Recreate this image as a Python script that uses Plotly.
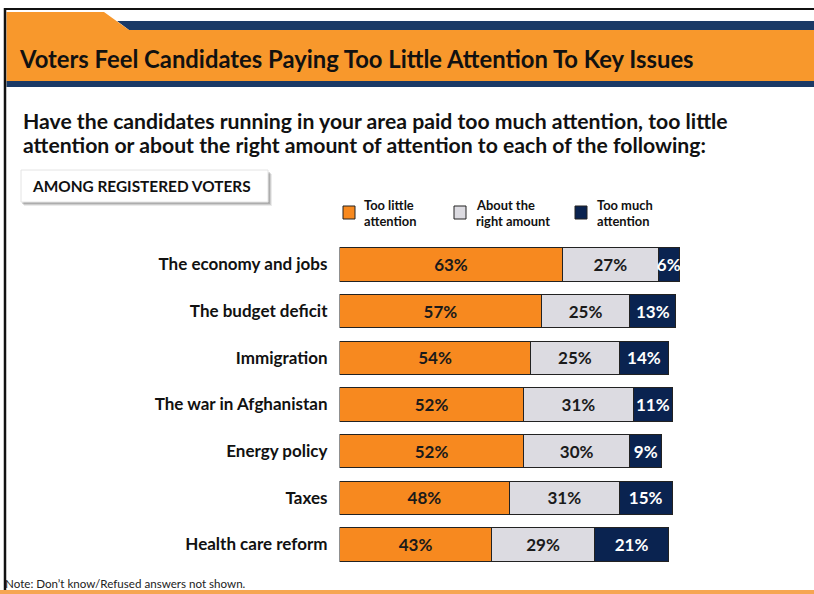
import plotly.graph_objects as go

# Survey items, top to bottom
categories = [
    "The economy and jobs",
    "The budget deficit",
    "Immigration",
    "The war in Afghanistan",
    "Energy policy",
    "Taxes",
    "Health care reform",
]
too_little = [63, 57, 54, 52, 52, 48, 43]
about_right = [27, 25, 25, 31, 30, 31, 29]
too_much = [6, 13, 14, 11, 9, 15, 21]

series_names = ["Too little<br>attention", "About the<br>right amount", "Too much<br>attention"]
series_colors = ["#F7891F", "#DCDBE1", "#0A2350"]
label_colors = ["#1a1a1a", "#1a1a1a", "#FFFFFF"]

W, H = 814, 594
FONT = "Lato"


def fx(x):
    return x / W


def fy(y):
    return 1 - y / H


fig = go.Figure()
for vals, name, col, tcol in zip([too_little, about_right, too_much], series_names,
                                 series_colors, label_colors):
    fig.add_trace(go.Bar(
        y=categories, x=vals, orientation="h", name=name,
        marker=dict(color=col, line=dict(color="#222222", width=1)),
        texttemplate="%{x}%", textposition="inside", insidetextanchor="middle",
        textangle=0,
        textfont=dict(family=FONT, size=17, color=tcol, weight="bold"),
        cliponaxis=False, showlegend=False, hoverinfo="skip",
    ))

shapes = []
# header: navy strip, orange tab/band, navy underline
shapes.append(dict(type="path", xref="paper", yref="paper",
                   path=f"M{fx(117)},{fy(21)} L{fx(814)},{fy(21)} L{fx(814)},{fy(30)} L{fx(129)},{fy(30)} Z",
                   fillcolor="#1B3A66", line=dict(width=0)))
shapes.append(dict(type="path", xref="paper", yref="paper",
                   path=(f"M{fx(6.5)},{fy(12)} L{fx(104)},{fy(12)} L{fx(129)},{fy(30)} "
                         f"L{fx(814)},{fy(30)} L{fx(814)},{fy(81)} L{fx(6.5)},{fy(81)} Z"),
                   fillcolor="#F8982C", line=dict(width=0)))
shapes.append(dict(type="rect", xref="paper", yref="paper", x0=fx(6.5), x1=fx(814), y0=fy(81), y1=fy(87),
                   fillcolor="#1B3A66", line=dict(width=0)))
# bottom rule
shapes.append(dict(type="rect", xref="paper", yref="paper", x0=0, x1=1, y0=fy(590), y1=fy(594),
                   fillcolor="#F6A653", line=dict(width=0)))
# outer frame
shapes.append(dict(type="line", xref="paper", yref="paper", x0=fx(4), x1=fx(814), y0=fy(9), y1=fy(9),
                   line=dict(color="#111111", width=2)))
shapes.append(dict(type="line", xref="paper", yref="paper", x0=fx(5), x1=fx(5), y0=fy(8), y1=fy(590),
                   line=dict(color="#111111", width=2.5)))
# label box with soft shadow
for dx, a in [(4, 0.08), (3, 0.12), (2, 0.16)]:
    shapes.append(dict(type="rect", xref="paper", yref="paper", x0=fx(21 + dx - 1), x1=fx(268 + dx),
                       y0=fy(202 + dx), y1=fy(170 + dx), fillcolor=f"rgba(0,0,0,{a})", line=dict(width=0)))
shapes.append(dict(type="rect", xref="paper", yref="paper", x0=fx(21), x1=fx(268), y0=fy(202), y1=fy(170),
                   fillcolor="white", line=dict(color="#E4E4E4", width=1)))

annotations = [
    dict(text="Voters Feel Candidates Paying Too Little Attention To Key Issues",
         x=fx(17), y=fy(59), xanchor="left", yanchor="middle",
         font=dict(family=FONT, size=23.8, color="#111111", weight="bold")),
    dict(text="Have the candidates running in your area paid too much attention, too little",
         x=fx(21), y=fy(121), xanchor="left", yanchor="middle",
         font=dict(family=FONT, size=21.2, color="#111111", weight="bold")),
    dict(text="attention or about the right amount of attention to each of the following:",
         x=fx(21), y=fy(145.5), xanchor="left", yanchor="middle",
         font=dict(family=FONT, size=21.2, color="#111111", weight="bold")),
    dict(text="AMONG REGISTERED VOTERS", x=fx(30), y=fy(186), xanchor="left", yanchor="middle",
         font=dict(family=FONT, size=15.4, color="#111111", weight="bold")),
    dict(text="Note: Don\u2019t know/Refused answers not shown.", x=fx(3), y=fy(583),
         xanchor="left", yanchor="middle",
         font=dict(family=FONT, size=11.6, color="#222222")),
]

# legend
legend_sq_x = [343, 454, 575]
legend_txt_x = [362, 474, 595]
for sx, tx, name, col in zip(legend_sq_x, legend_txt_x, series_names, series_colors):
    shapes.append(dict(type="rect", xref="paper", yref="paper", x0=fx(sx), x1=fx(sx + 12),
                       y0=fy(219), y1=fy(206), fillcolor=col, line=dict(color="#222222", width=1)))
    first, second = name.split("<br>")
    for line, ly in [(first, 205), (second, 220.5)]:
        annotations.append(dict(text=line, x=fx(tx), y=fy(ly), xanchor="left", yanchor="middle",
                                font=dict(family=FONT, size=12.9, color="#111111", weight="bold")))

for a in annotations:
    a.update(xref="paper", yref="paper", showarrow=False)

x0_px, px_per_pct = 339.5, 3.54
row_px, first_center = 46.67, 264.5
y_top = first_center - row_px / 2
y_bot = y_top + row_px * len(categories)

fig.update_layout(
    width=W, height=H, margin=dict(l=0, r=0, t=0, b=0),
    paper_bgcolor="white", plot_bgcolor="white",
    barmode="stack", bargap=0.29,
    uniformtext=dict(minsize=17, mode="show"),
    shapes=shapes, annotations=annotations, showlegend=False,
    xaxis=dict(domain=[fx(x0_px), fx(x0_px + 100 * px_per_pct)], range=[0, 100],
               visible=False, fixedrange=True),
    yaxis=dict(domain=[fy(y_bot), fy(y_top)], categoryorder="array", categoryarray=categories,
               autorange=False, range=[len(categories) - 0.5, -0.5],
               showline=False, showgrid=False, zeroline=False, ticks="",
               ticklabelstandoff=11,
               tickfont=dict(family=FONT, size=17, color="#111111", weight="bold")),
)

fig.write_html("out.html")
